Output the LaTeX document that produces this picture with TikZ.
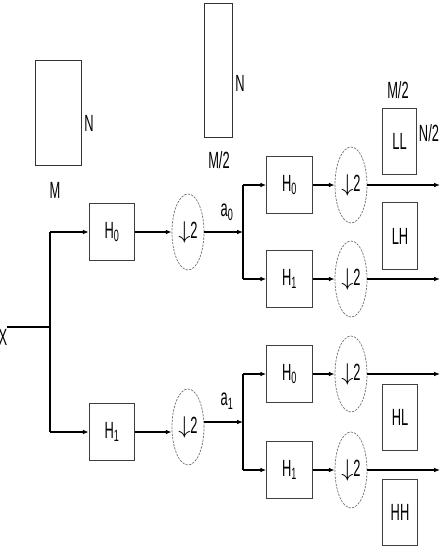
\documentclass[tikz,border=0pt]{standalone}
\usepackage{fontspec}
\setmainfont[FakeStretch=0.55]{Liberation Sans}
\usetikzlibrary{arrows.meta,shapes.geometric}
\begin{document}
\begin{tikzpicture}[x=0.03cm,y=-0.03cm,font=\fontsize{20}{22}\selectfont,
  filtre/.style={draw=black!75,line width=0.8pt,minimum width=1.37cm,minimum height=1.72cm,inner sep=0pt},
  decim/.style={ellipse,draw=black!55,dash pattern=on 2pt off 1pt,line width=0.6pt,minimum width=0.96cm,minimum height=2.28cm,inner sep=0pt},
  bande/.style={draw=black!75,line width=0.8pt,minimum width=1.04cm,minimum height=2cm,inner sep=0pt},
  fleche/.style={-{Latex[length=5pt,width=4pt]},line width=1.1pt},
  trait/.style={line width=1.1pt}]
\useasboundingbox (0,0) rectangle (441,553);
\node[draw=black!80,line width=0.8pt,minimum width=1.38cm,minimum height=3.15cm] (img) at (58,112.5) {};
\node (imgN) at (89,123) {N};
\node (imgM) at (55,190) {M};
\node[draw=black!80,line width=0.8pt,minimum width=0.84cm,minimum height=4.02cm] (demi) at (218,70) {};
\node (demiN) at (240,83) {N};
\node (demiM) at (219,160) {M/2};
\node[bande] (ll) at (399.5,141.5) {LL};
\node (llM) at (398,90) {M/2};
\node (llN) at (429,133) {N/2};
\node[bande] (lh) at (400,236) {LH};
\node[bande] (hl) at (400,417.5) {HL};
\node[bande] (hh) at (400,512.5) {HH};
\node (x) at (3,337) {X};
\coordinate (xin) at (7,327);
\coordinate (jx) at (50,327);
\node[filtre] (h0) at (112,232) {H\textsubscript{0}};
\node[filtre] (h1) at (112,432) {H\textsubscript{1}};
\node[decim] (d0) at (188,232) {$\downarrow$2};
\node[decim] (d1) at (188,427) {$\downarrow$2};
\coordinate (ja) at (243,232);
\coordinate (jb) at (243,422);
\node (a0) at (227,212) {a\textsubscript{0}};
\node (a1) at (227,401) {a\textsubscript{1}};
\draw[trait] (xin) -- (jx);
\draw[trait] (h0.west -| jx) -- (h1.west -| jx);
\draw[fleche] (h0.west -| jx) -- (h0);
\draw[fleche] (h1.west -| jx) -- (h1);
\draw[fleche] (h0) -- (d0);
\draw[fleche] (h1.east) -- (h1.east -| d1.west);
\draw[fleche] (d0) -- (ja);
\draw[fleche] (jb -| d1.east) -- (jb);
\foreach \nom/\y/\idx in {a/185/0,b/279/1,c/374/0,d/470/1} {
  \node[filtre] (f\nom) at (289.5,\y) {H\textsubscript{\idx}};
  \node[decim] (g\nom) at (351,\y) {$\downarrow$2};
  \coordinate (s\nom) at (440,\y);
  \draw[fleche] (f\nom) -- (g\nom);
  \draw[fleche] (g\nom) -- (s\nom);
}
\draw[trait] (fa.west -| ja) -- (fb.west -| ja);
\draw[trait] (fc.west -| jb) -- (fd.west -| jb);
\foreach \nom/\j in {a/ja,b/ja,c/jb,d/jb}
  \draw[fleche] (f\nom.west -| \j) -- (f\nom);
\end{tikzpicture}
\end{document}
